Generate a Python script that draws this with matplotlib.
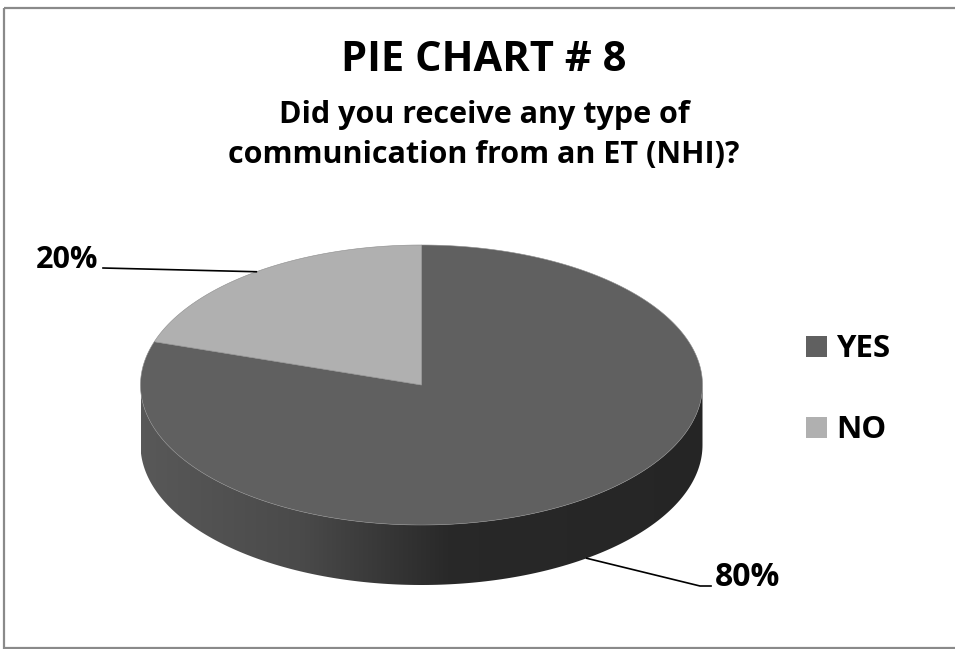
import numpy as np
import matplotlib.pyplot as plt
from matplotlib.path import Path
from matplotlib.patches import PathPatch, Rectangle
from matplotlib.colors import to_rgb

plt.rcParams['font.family'] = ['Open Sans', 'DejaVu Sans']

title = 'PIE CHART # 8'
question_lines = ['Did you receive any type of', 'communication from an ET (NHI)?']
labels = ['YES', 'NO']
shares = [80, 20]
top_colors = ['#606060', '#b0b0b0']

# pie drawn in pixel space: top ellipse centre, radii, wall height
cx, cy = 421.5, 385.0
rx, ry = 281.0, 140.0
depth = 60.0


def rim(t, drop=0.0):
    t = np.radians(t)
    return np.column_stack([cx + rx * np.cos(t), cy - ry * np.sin(t) + drop])


def closed(verts):
    codes = [Path.MOVETO] + [Path.LINETO] * (len(verts) - 2) + [Path.CLOSEPOLY]
    return Path(verts, codes)


fig = plt.figure(figsize=(9.55, 6.49), dpi=100)
ax = fig.add_axes([0, 0, 1, 1])
ax.set_xlim(0, 955)
ax.set_ylim(649, 0)
ax.axis('off')

# chart frame
ax.add_patch(Rectangle((4, 8), 960, 640, fill=False, edgecolor='#8a8a8a', linewidth=1.6))

# slices run clockwise from 12 o'clock
bounds = 90 - 360 * np.concatenate([[0], np.cumsum(shares)]) / sum(shares)

# side wall (only the front half, sin t <= 0, is visible)
xs = np.linspace(cx - rx, cx + rx, 400)
shade = np.interp(xs, [cx - rx, 300, 450, cx + rx], [0.92, 0.77, 0.42, 0.39])
for i, col in enumerate(top_colors):
    start, end = bounds[i], bounds[i + 1]
    for k in (-1, 0, 1):
        lo = max(end, -180 + 360 * k)
        hi = min(start, 0 + 360 * k)
        if hi <= lo:
            continue
        ts = np.linspace(lo, hi, 200)
        verts = np.vstack([rim(ts), rim(ts[::-1], depth), rim(ts[:1])])
        wall = PathPatch(closed(verts), facecolor='none', edgecolor='none')
        ax.add_patch(wall)
        base = np.array(to_rgb(col))
        grad = (shade[:, None] * base[None, :])[None, :, :]
        img = ax.imshow(np.repeat(grad, 2, axis=0), extent=(cx - rx, cx + rx, cy + ry + depth + 2, cy - 2),
                        aspect='auto', interpolation='bilinear', zorder=1)
        img.set_clip_path(wall)

# top faces
for i, col in enumerate(top_colors):
    ts = np.linspace(bounds[i], bounds[i + 1], 300)
    verts = np.vstack([[[cx, cy]], rim(ts), [[cx, cy]]])
    ax.add_patch(PathPatch(closed(verts), facecolor=col, edgecolor='#8c8c8c', linewidth=0.4, zorder=2))

# percentage labels with leader lines
label_spots = [((711, 586), (700, 586), 'left', 23), ((103, 268), None, 'right', 22)]
for i, v in enumerate(shares):
    mid = (bounds[i] + bounds[i + 1]) / 2
    front = np.sin(np.radians(mid)) < 0
    anchor = rim([mid], depth if front else 0.0)[0]
    end, elbow, ha, fs = label_spots[i]
    pts = np.array([anchor] + ([elbow] if elbow else []) + [end])
    ax.plot(pts[:, 0], pts[:, 1], color='black', linewidth=1.2, zorder=3)
    tx = end[0] + 4 if ha == 'left' else end[0] - 5
    ax.text(tx, end[1], f'{v}%', ha=ha, va='baseline', fontsize=fs, fontweight='bold', zorder=4)

# legend
for i, (lab, col) in enumerate(zip(labels, top_colors)):
    y0 = 336 + i * 81
    ax.add_patch(Rectangle((806, y0), 21, 21, facecolor=col, edgecolor='none'))
    ax.text(836, y0 + 21, lab, ha='left', va='baseline', fontsize=22.5, fontweight='bold')

# titles
ax.text(484, 71, title, ha='center', va='baseline', fontsize=30, fontweight='bold')
for j, line in enumerate(question_lines):
    ax.text(484, 123 + 40 * j, line, ha='center', va='baseline', fontsize=22, fontweight='bold')

fig.savefig('out.png', dpi=100)
